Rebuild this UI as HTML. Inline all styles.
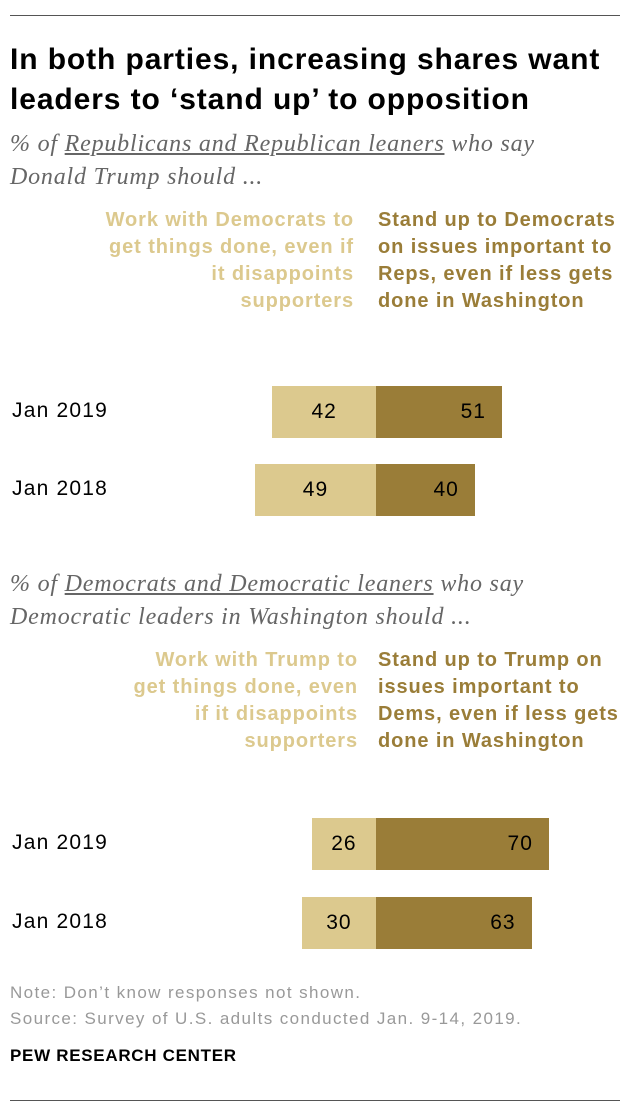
<!DOCTYPE html>
<html><head><meta charset="utf-8">
<style>
body{margin:0;width:630px;height:1116px;background:#fff;position:relative;font-family:"Liberation Sans",sans-serif;overflow:hidden}
.abs{position:absolute;white-space:nowrap}
.title{left:10px;top:40px;font-size:30px;letter-spacing:0.9px;font-weight:bold;line-height:40px;color:#000}
.sub{left:10px;font-family:"Liberation Serif",serif;font-style:italic;font-size:24px;letter-spacing:0.8px;line-height:33px;color:#666}
.sub u{text-decoration:underline}
.lg{font-size:20px;letter-spacing:0.9px;font-weight:bold;line-height:27px}
.yr{left:12px;font-size:21px;letter-spacing:1.2px;color:#000}
.note{left:10px;font-size:17px;letter-spacing:1.4px;color:#999}
</style></head><body>
<div class="abs" style="left:10px;top:15px;width:610px;height:1px;background:#555"></div>
<div class="abs title">In both parties, increasing shares want<br>leaders to ‘stand up’ to opposition</div>
<div class="abs sub" style="top:128px">% of <u>Republicans and Republican leaners</u> who say<br>Donald Trump should ...</div>
<div class="abs lg" style="right:276px;top:207px;text-align:right;color:#dcc98e">Work with Democrats to<br>get things done, even if<br>it disappoints<br>supporters</div>
<div class="abs lg" style="left:378px;top:207px;color:#9a7d38">Stand up to Democrats<br>on issues important to<br>Reps, even if less gets<br>done in Washington</div>
<div class="abs sub" style="top:568px">% of <u>Democrats and Democratic leaners</u> who say<br>Democratic leaders in Washington should ...</div>
<div class="abs lg" style="right:272px;top:647px;text-align:right;color:#dcc98e">Work with Trump to<br>get things done, even<br>if it disappoints<br>supporters</div>
<div class="abs lg" style="left:378px;top:647px;color:#9a7d38">Stand up to Trump on<br>issues important to<br>Dems, even if less gets<br>done in Washington</div>
<div id="chart"></div>
<div class="abs note" style="top:983px">Note: Don’t know responses not shown.</div>
<div class="abs note" style="top:1009px">Source: Survey of U.S. adults conducted Jan. 9-14, 2019.</div>
<div class="abs" style="left:10px;top:1046px;font-size:17px;letter-spacing:0.7px;font-weight:bold;color:#000">PEW RESEARCH CENTER</div>
<div class="abs" style="left:10px;top:1100px;width:610px;height:1px;background:#555"></div>
<script>
const years=["Jan 2019","Jan 2018","Jan 2019","Jan 2018"];
const workWith=[42,49,26,30];
const standUp=[51,40,70,63];
const rowTops=[386,464,818,897];
const center=376, scale=2.47, barH=52;
function x(v){return v*scale;}
const c=document.getElementById('chart');
years.forEach((y,i)=>{
  const t=rowTops[i];
  const lab=document.createElement('div');
  lab.className='abs yr';lab.style.top=(t+13)+'px';lab.textContent=y;
  
  
  c.appendChild(lab);
  const l=document.createElement('div');
  l.className='abs';
  l.style.cssText=`left:${center-x(workWith[i])}px;top:${t}px;width:${x(workWith[i])}px;height:${barH}px;background:#dcc98e;font-size:21px;letter-spacing:1px;line-height:${barH}px;text-align:center`;
  l.textContent=workWith[i];
  
  
  c.appendChild(l);
  const r=document.createElement('div');
  r.className='abs';
  r.style.cssText=`left:${center}px;top:${t}px;width:${x(standUp[i])-16}px;padding-right:16px;height:${barH}px;background:#9a7d38;font-size:21px;letter-spacing:1px;line-height:${barH}px;text-align:right`;
  r.textContent=standUp[i];
  
  
  c.appendChild(r);
});
</script>
</body></html>
